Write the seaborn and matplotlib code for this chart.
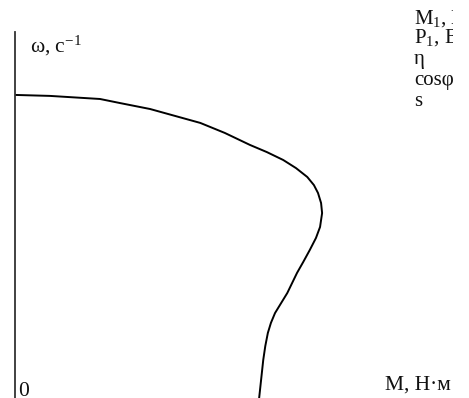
import numpy as np
import pandas as pd
import matplotlib
matplotlib.use("Agg")
import matplotlib.pyplot as plt
import matplotlib.transforms as mtransforms
import seaborn as sns

# mechanical characteristic omega(M)
torque = [0, 6.8, 16.6, 20.5, 26.4, 31.3, 36.2, 41.0, 45.9, 49.2, 52.4, 54.9, 57.1,
          58.4, 59.2, 59.8, 60.0, 59.6, 58.8, 57.6, 56.3, 55.1, 53.2, 52.0, 50.8,
          50.0, 49.4, 48.9, 48.5, 47.7]
speed = [157, 156.5, 154.9, 152.8, 149.7, 146.1, 142.5, 137.3, 131.1, 127.4, 123.3,
         119.1, 114.5, 110.3, 106.2, 101.0, 95.8, 88.6, 82.9, 76.7, 70.4, 64.8, 54.4,
         49.2, 44.0, 38.9, 33.7, 26.9, 19.7, 0]
right_labels = ["M$_1$, Н·м", "P$_1$, Вт", "η", "cosφ", "s"]

df = pd.DataFrame({"M": torque, "w": speed})

sns.set_theme(style="white")
plt.rcParams["font.family"] = ["Liberation Serif", "DejaVu Serif"]
plt.rcParams["mathtext.fontset"] = "custom"
plt.rcParams["mathtext.rm"] = "Liberation Serif"
plt.rcParams["mathtext.default"] = "regular"

W, H = 469, 398
fig = plt.figure(figsize=(W / 100, H / 100), dpi=100)
ax = fig.add_axes([15 / W, 0, (W - 15) / W, (H - 32) / H])

sns.lineplot(data=df, x="M", y="w", sort=False, color="black", linewidth=1.4,
             ax=ax, estimator=None)
ax.set_xlim(0, 88.7)
ax.set_ylim(0, 189.6)
ax.set_xticks([])
ax.set_yticks([])
ax.set_xlabel("")
ax.set_ylabel("")
for s in ["top", "right", "bottom"]:
    ax.spines[s].set_visible(False)
ax.spines["left"].set_color("#333333")
ax.spines["left"].set_linewidth(1.3)

# the source picture is cropped on the right, so these labels are cut off
clip = mtransforms.TransformedBbox(mtransforms.Bbox([[0, 0], [453 / W, 1]]), fig.transFigure)

def put(x, y, txt, size=15.5, clipped=False):
    t = fig.text(x / W, 1 - y / H, txt, fontsize=size, va="baseline", ha="left",
                 color="#111111")
    if clipped:
        t.set_clip_box(clip)
        t.set_clip_on(True)
    return t

put(30, 52, "ω, с$^{-1}$")
put(18, 396, "0")
put(385, 390, "M, Н·м")
ys = [24, 43, 64, 85, 106]
for y, t in zip(ys, right_labels):
    put(414, y, t, size=15, clipped=True)

fig.savefig("out.png", dpi=100)
